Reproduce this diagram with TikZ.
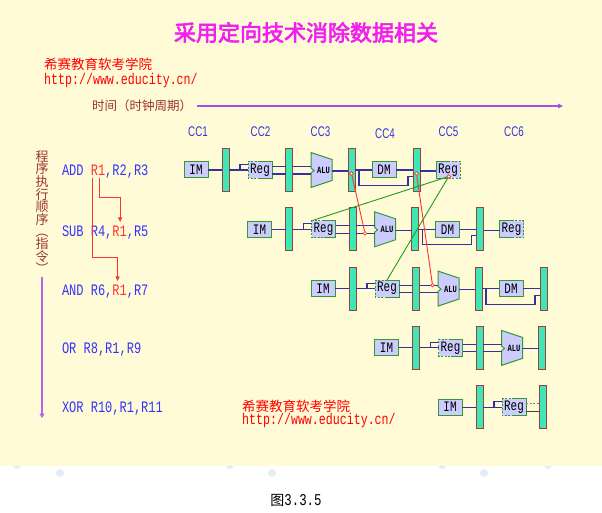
\documentclass[tikz,border=0pt]{standalone}
\usepackage{fontspec}
\setmainfont{Liberation Serif}
\setmonofont{Liberation Mono}
\setsansfont{Liberation Sans}
\newfontfamily\cjk{Noto Sans CJK SC}
\newfontfamily\cjkbold{Noto Sans CJK SC}[FakeBold=3]
\newfontfamily\instrfont{Liberation Mono}[FakeStretch=0.75]
\newfontfamily\ccfont{Liberation Sans}[FakeStretch=0.7]
\usetikzlibrary{arrows.meta,calc}
\definecolor{bgyellow}{HTML}{FFFBD7}
\definecolor{latchfill}{HTML}{3FE6B6}
\definecolor{latchdraw}{HTML}{A0403C}
\definecolor{lav}{HTML}{CCCCFF}
\definecolor{grn}{HTML}{339933}
\definecolor{navy}{HTML}{333399}
\definecolor{iblue}{HTML}{3333FF}
\definecolor{ccblue}{HTML}{3333DD}
\definecolor{brn}{HTML}{993333}
\definecolor{purp}{HTML}{A050F0}
\definecolor{vpurp}{HTML}{B068E8}
\definecolor{mag}{HTML}{F020F0}
\definecolor{fred}{HTML}{FF3333}
\definecolor{fgrn}{HTML}{229922}
\definecolor{bub}{HTML}{E4ECF8}
\tikzset{
  latchbar/.style={draw=latchdraw, fill=latchfill, line width=0.9pt, minimum width=7pt, minimum height=43pt, inner sep=0pt, outer sep=0pt},
  unitbox/.style={draw=grn, fill=lav, line width=1pt, minimum width=24pt, minimum height=16pt, inner sep=0pt, outer sep=0pt, font=\instrfont\fontsize{14.5}{14.5}\selectfont},
  regunit/.style={fill=lav, minimum width=24pt, minimum height=17pt, inner sep=0pt, outer sep=0pt, font=\instrfont\fontsize{14.5}{14.5}\selectfont},
  regedge/.style={draw=grn, line width=1pt},
  regdash/.style={draw=grn, line width=1pt, dash pattern=on 2pt off 1.5pt},
  wire/.style={draw=navy, line width=1.1pt},
  alubody/.style={draw=grn, fill=lav, line width=1pt},
  alulabel/.style={inner sep=0pt, font=\instrfont\bfseries\fontsize{9.5}{9.5}\selectfont},
  fwdred/.style={draw=fred, line width=0.9pt},
  fwdgreen/.style={draw=fgrn, line width=0.9pt},
  tapdot/.style={circle, draw=fred, fill=white, line width=0.7pt, minimum size=3.6pt, inner sep=0pt},
  instr/.style={text=iblue, inner sep=0pt, outer sep=0pt, font=\instrfont\fontsize{16}{16}\selectfont, anchor=base west},
  depline/.style={draw=fred, line width=0.9pt, -{Triangle[width=4pt,length=4.5pt]}},
  cclabel/.style={text=ccblue, inner sep=0pt, font=\ccfont\fontsize{14}{14}\selectfont},
  brand/.style={text=red, inner sep=0pt, anchor=west, font=\cjk\fontsize{13.5}{13.5}\selectfont},
  urltext/.style={text=red, inner sep=0pt, anchor=base west, font=\instrfont\fontsize{15.5}{15.5}\selectfont},
  timeaxis/.style={draw=purp, line width=1.3pt, -{Triangle[width=4.5pt,length=5pt]}},
  orderaxis/.style={draw=vpurp, line width=1.4pt, -{Triangle[width=5pt,length=4.5pt]}}
}
\begin{document}
\begin{tikzpicture}[x=1pt,y=-1pt]
\useasboundingbox (0,0) rectangle (602,513);
\fill[white] (0,0) rectangle (602,513);
% faint background bubbles
\foreach \cx in {17,230,442,548} \fill[bub] (\cx,465) circle (4);
\fill[bgyellow] (0,0) rectangle (602,466);
\foreach \cx in {60,272,484} \fill[bub] (\cx,473) circle (4);

% title and brand
\node[text=mag, inner sep=0pt, font=\cjkbold\fontsize{22}{22}\selectfont] (title) at (306,32.5) {采用定向技术消除数据相关};
\node[brand] (brand1) at (44,64.8) {希赛教育软考学院};
\node[urltext] (url1) at (44,84.3) {http://www.educity.cn/};
\node[brand] (brand2) at (242,406) {希赛教育软考学院};
\node[urltext] (url2) at (242,424.3) {http://www.educity.cn/};

% time axis
\node[anchor=west, inner sep=0pt, text=brn, font=\cjk\fontsize{12.5}{12.5}\selectfont] (tl) at (92,106) {时间（时钟周期）};
\coordinate (tend) at (563,106);
\draw[timeaxis, shorten <=5pt] (tl.east) -- (tend);

% clock cycle labels
\node[cclabel] (cc1) at (198,132) {CC1};
\node[cclabel] (cc2) at (260.5,132) {CC2};
\node[cclabel] (cc3) at (320.5,132) {CC3};
\node[cclabel] (cc4) at (385,133.5) {CC4};
\node[cclabel] (cc5) at (448.5,132) {CC5};
\node[cclabel] (cc6) at (514,132) {CC6};

% program order axis
\node[align=center, inner sep=0pt, text=brn, font=\cjk\fontsize{13}{12}\selectfont] (vt) at (42,212.5) {程\\序\\执\\行\\顺\\序\\︵\\指\\令\\︶};
\coordinate (vend) at (42,418);
\draw[orderaxis, shorten <=3pt] (vt.south) -- (vend);

% instructions
\node[instr] (op1) at (62,176) {ADD\hphantom{x}};
\node[instr, text=fred] (src1) at (op1.base east) {R1};
\node[instr] (tail1) at (src1.base east) {,R2,R3};
\node[instr] (op2) at (62,236) {SUB R4,};
\node[instr, text=fred] (src2) at (op2.base east) {R1};
\node[instr] (tail2) at (src2.base east) {,R5};
\node[instr] (op3) at (62,295) {AND R6,};
\node[instr, text=fred] (src3) at (op3.base east) {R1};
\node[instr] (tail3) at (src3.base east) {,R7};
\node[instr] (op4) at (62,353) {OR R8,R1,R9};
\node[instr] (op5) at (62,412.5) {XOR R10,R1,R11};
\draw[depline] ($(src1.south)+(1.3,2)$) -- ++(0,19) -| ($(src2.north)+(0.5,-3.5)$);
\draw[depline] ($(src1.south west)+(1.5,2)$) -- ++(0,79) -| ($(src3.north)+(-2,-3.5)$);

% pipeline rows
\foreach \i/\n in {0/9,1/9,2/8,3/6,4/4}{
  \pgfmathsetmacro\xo{184+63.5*\i}
  \pgfmathsetmacro\yc{170+59.3*\i}
  \node[unitbox] (im\i) at (\xo+12,\yc) {IM};
  \node[latchbar] (la\i) at (\xo+41.5,\yc) {};
  \node[regunit] (rr\i) at (\xo+76,\yc) {Reg};
  \draw[regdash] (rr\i.north) -- (rr\i.north west) -- (rr\i.south west) -- (rr\i.south);
  \draw[regedge] (rr\i.north) -- (rr\i.north east) -- (rr\i.south east) -- (rr\i.south);
  \node[latchbar] (lb\i) at (\xo+105,\yc) {};
  \draw[wire] (im\i.east) -- (la\i.west);
  \draw[wire] (la\i.east) -- (rr\i.west);
  \draw[wire] (la\i.east) ++(11,0) -- ++(0,-5.5) -- ([yshift=5.5pt]rr\i.west);
  \ifnum\n=4
    \draw[draw=gray, line width=1.1pt, dash pattern=on 2pt off 1.5pt] ([yshift=3.5pt]rr\i.east) -- ([yshift=3.5pt]lb\i.west);
    \draw[draw=darkgray, line width=1.1pt] ([yshift=-4pt]rr\i.east) -- ([yshift=-4pt]lb\i.west);
  \else
    \draw[wire] ([yshift=3.5pt]rr\i.east) -- ([yshift=3.5pt]lb\i.west);
    \draw[wire] ([yshift=-4pt]rr\i.east) -- ([yshift=-4pt]lb\i.west);
  \fi
  \ifnum\n>4
    \draw[alubody] (\xo+127,\yc-17.5) -- (\xo+148,\yc-10.5) -- (\xo+148,\yc+10.5) -- (\xo+127,\yc+17.5) -- (\xo+127,\yc+3) -- (\xo+130,\yc+0.5) -- (\xo+127,\yc-2) -- cycle;
    \node[alulabel] (alu\i) at (\xo+139.5,\yc+0.5) {ALU};
    \node[latchbar] (lc\i) at (\xo+167.5,\yc) {};
    \draw[wire] ([yshift=3.5pt]lb\i.east) -- ++(18.5,0);
    \draw[wire] ([yshift=-4pt]lb\i.east) -- ++(18.5,0);
    \draw[wire] (\xo+148,\yc+1) -- ([yshift=-1pt]lc\i.west);
  \fi
  \ifnum\n>6
    \node[unitbox] (dm\i) at (\xo+200,\yc) {DM};
    \node[latchbar] (ld\i) at (\xo+232.5,\yc) {};
    \draw[wire] (lc\i.east) -- (dm\i.west);
    \draw[wire] (dm\i.east) -- (ld\i.west);
    \draw[wire] (lc\i.east) ++(4,0) -- ++(0,15.5) -- ++(49,0) -- ++(0,-9) -- ([yshift=-6.5pt]ld\i.west);
  \fi
  \ifnum\n>8
    \node[regunit] (rw\i) at (\xo+264,\yc) {Reg};
    \draw[regedge] (rw\i.north) -- (rw\i.north west) -- (rw\i.south west) -- (rw\i.south);
    \draw[regdash] (rw\i.north) -- (rw\i.north east) -- (rw\i.south east) -- (rw\i.south);
    \draw[wire] ([yshift=-1pt]ld\i.east) -- ([yshift=-1pt]rw\i.west);
  \fi
}

% forwarding paths
\node[tapdot] (rd1) at ($(lc0.center)+(0,3.5)$) {};
\node[tapdot] (re1) at ($(lb1.east)+(9,4)$) {};
\node[tapdot] (rd2) at ($(ld0.center)+(0,3.5)$) {};
\node[tapdot] (re2) at ($(lb2.east)+(13,-3.5)$) {};
\draw[fwdred] (rd1) -- (re1);
\draw[fwdred] (rd2) -- (re2);
\node[tapdot] (gd) at ($(rw0.center)+(0.7,6.5)$) {};
\draw[fwdgreen] (gd) -- (rr2.north);
\draw[fwdgreen] (gd) -- (rr1.north west);

% caption
\node[inner sep=0pt] (caption) at (296,500.5) {{\cjk\fontsize{14}{14}\selectfont 图}{\instrfont\fontsize{16.5}{16.5}\selectfont 3.3.5}};
\end{tikzpicture}
\end{document}
